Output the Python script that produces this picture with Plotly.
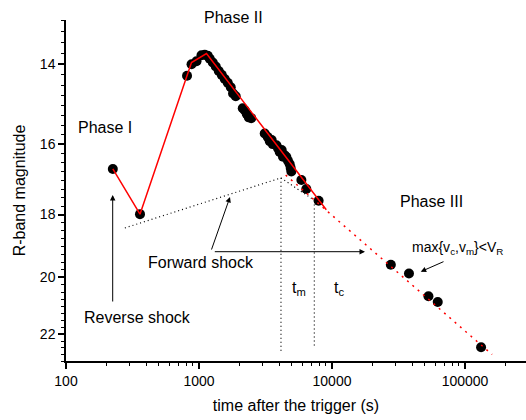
import numpy as np
import plotly.graph_objects as go

# ---------------- data ----------------
phase1_t = [225, 360]
phase1_mag = [16.68, 17.99]

phase2_t = [813, 879, 958, 1044, 1105, 1164, 1205, 1269, 1337, 1408, 1483, 1562,
            1645, 1733, 1803, 1889, 2133, 2207, 2285, 2365, 2470, 3119, 3285,
            3401, 3520, 3581, 3819, 3926, 4043, 4184, 4280, 4406, 4539, 4666,
            4805, 4889, 4949, 5883, 6413, 7934]
phase2_mag = [14.27, 14.00, 13.93, 13.79, 13.78, 13.80, 13.87, 13.96, 14.05,
              14.16, 14.25, 14.35, 14.44, 14.55, 14.70, 14.77, 15.07, 15.12,
              15.21, 15.30, 15.32, 15.72, 15.81, 15.92, 15.89, 16.00, 16.03,
              16.11, 16.21, 16.16, 16.34, 16.30, 16.35, 16.45, 16.54, 16.65,
              16.75, 16.99, 17.25, 17.59]

phase3_t = [27690, 37910, 53120, 62370, 132100]
phase3_mag = [19.58, 19.87, 20.64, 20.84, 22.48]

# model curves
fit_t = [225, 360, 878, 1138, 9061]
fit_mag = [16.68, 17.99, 13.96, 13.75, 17.86]
late_t = [4484, 159700]
late_mag = [16.85, 22.75]
fs_t = [277, 4134, 7365]
fs_mag = [18.41, 16.93, 17.58]
tm_t = [4134, 4134]
tm_mag = [16.93, 22.64]
tc_t = [7365, 7365]
tc_mag = [17.58, 22.50]

y_major = [14, 16, 18, 20, 22]
x_major = [100, 1000, 10000, 100000]

FONT = "Arial, Liberation Sans, sans-serif"

fig = go.Figure()

obs_t = phase1_t + phase2_t + phase3_t
obs_mag = phase1_mag + phase2_mag + phase3_mag
fig.add_trace(go.Scatter(x=obs_t, y=obs_mag, mode="markers",
                         marker=dict(color="black", size=10, line=dict(width=0)),
                         showlegend=False, hoverinfo="skip"))

# dotted black forward-shock curve and t_m / t_c markers
for xs, ys in [(fs_t, fs_mag), (tm_t, tm_mag), (tc_t, tc_mag)]:
    fig.add_trace(go.Scatter(x=xs, y=ys, mode="lines",
                             line=dict(color="black", width=1.2, dash="1px,3px"),
                             showlegend=False, hoverinfo="skip"))

# red fits
fig.add_trace(go.Scatter(x=late_t, y=late_mag, mode="lines",
                         line=dict(color="red", width=1.5, dash="2px,5px"),
                         showlegend=False, hoverinfo="skip"))
fig.add_trace(go.Scatter(x=fit_t, y=fit_mag, mode="lines",
                         line=dict(color="red", width=1.5),
                         showlegend=False, hoverinfo="skip"))

# ---------------- layout ----------------
W, H = 526, 420
L, R, T, B = 66, 0, 20, 59
PW, PH = W - L - R, H - T - B


def px(xp, yp):
    return (xp - L) / PW, (H - B - yp) / PH


annotations = []


def text(s, xp, yp, size=16, xanchor="center"):
    x, y = px(xp, yp)
    annotations.append(dict(text=s, x=x, y=y, xref="paper", yref="paper",
                            showarrow=False, xanchor=xanchor, yanchor="middle",
                            font=dict(family=FONT, size=size, color="black")))


def arrow(head, tail):
    x, y = px(*head)
    annotations.append(dict(text="", x=x, y=y, xref="paper", yref="paper",
                            ax=tail[0] - head[0], ay=tail[1] - head[1],
                            axref="pixel", ayref="pixel",
                            showarrow=True, arrowhead=2, arrowsize=1.1,
                            arrowwidth=1, arrowcolor="black", standoff=0))


text("Phase I", 105, 127)
text("Phase II", 233, 17)
text("Phase III", 431, 201)
text("Forward shock", 200.5, 262)
text("Reverse shock", 137, 317)
text("t<sub>m</sub>", 290, 288, xanchor="left")
text("t<sub>c</sub>", 331.5, 288, xanchor="left")
text("max{v<sub>c</sub>,v<sub>m</sub>}&lt;V<sub>R</sub>", 409.5, 248, size=14, xanchor="left")

arrow((112.7, 195), (112.7, 303))
arrow((230, 197), (211, 251))
arrow((365, 251.7), (213.3, 251.7))
arrow((420.7, 271.7), (445, 261))

minor_y = [13 + 0.25 * k for k in range(41) if (13 + 0.25 * k) not in y_major]
minor_x = [m * 10 ** e for e in range(2, 6) for m in range(2, 10)]

axis_common = dict(showline=True, linecolor="black", linewidth=1.5,
                   showgrid=False, zeroline=False, ticks="outside",
                   ticklen=6, tickwidth=1.5, tickcolor="black", automargin=False,
                   tickfont=dict(family=FONT, size=14, color="black"))

fig.update_layout(
    width=W, height=H,
    margin=dict(l=L, r=R, t=T, b=B),
    paper_bgcolor="white", plot_bgcolor="white",
    showlegend=False,
    annotations=annotations,
    xaxis=dict(type="log", range=[2, 2 + PW / 133.0],
               tickmode="array", tickvals=x_major,
               ticktext=[str(v) for v in x_major],
               minor=dict(tickmode="array", tickvals=minor_x, ticks="outside",
                          ticklen=3, tickwidth=1, tickcolor="black"),
               title=dict(text="time after the trigger (s)", standoff=12,
                          font=dict(family=FONT, size=16, color="black")),
               **axis_common),
    yaxis=dict(type="log", range=[np.log10(23), np.log10(13)],
               tickmode="array", tickvals=y_major,
               ticktext=[str(v) for v in y_major],
               minor=dict(tickmode="array", tickvals=minor_y, ticks="outside",
                          ticklen=3, tickwidth=1, tickcolor="black"),
               title=dict(text="R-band magnitude", standoff=10,
                          font=dict(family=FONT, size=16, color="black")),
               **axis_common),
)

fig.write_html("out.html", config={"displayModeBar": False},
               post_script="document.body.style.margin='0';document.body.style.padding='0';")
